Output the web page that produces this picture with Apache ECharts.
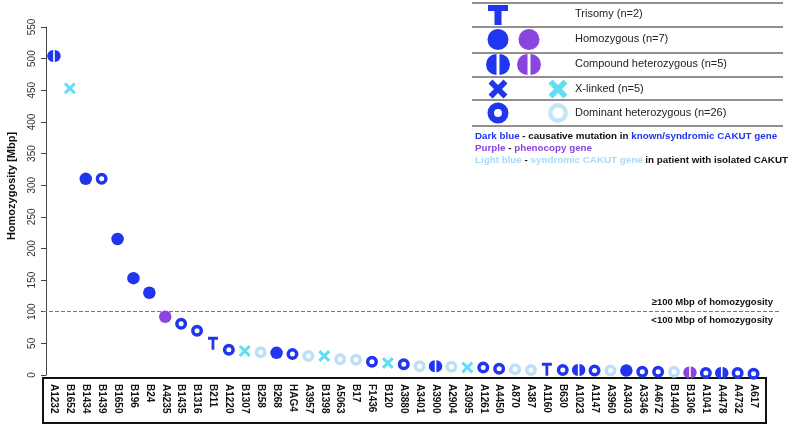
<!DOCTYPE html>
<html>
<head>
<meta charset="utf-8">
<script src="https://cdn.jsdelivr.net/npm/echarts/dist/echarts.min.js"></script>
<style>html,body{margin:0;padding:0;background:#fff;}#c{width:800px;height:425px;}</style>
</head>
<body>
<div id="c"></div>
<script>
// ---- data ----
const categories = ['A1232','B1652','B1434','B1439','B1650','B196','B24','A4235','B1435','B1316','B211','A1220','B1307','B258','B268','HAG4','A3957','B1398','A5063','B17','F1436','B120','A3880','A3401','A3900','A2904','A3095','A1261','A4450','A870','A387','A1160','B630','A1023','A1147','A3960','A3403','A3346','A4672','B1440','B1306','A1041','A4478','A4732','A617'];
const homozygosity = [504,453,310,310,215,153,130,92,81,70,50,40,38,36,35,33,30,30,25,24,21,19,17,14,14,13,12,12,10,9,8,9,8,8,7,7,7,5,5,5,4,3,3,3,2];
const mutationType = ['compound','xlinked','homozygous','dominant','homozygous','homozygous','homozygous','homozygous','dominant','dominant','trisomy','dominant','xlinked','dominant','homozygous','dominant','dominant','xlinked','dominant','dominant','dominant','xlinked','dominant','dominant','compound','dominant','xlinked','dominant','dominant','dominant','dominant','trisomy','dominant','compound','dominant','dominant','homozygous','dominant','dominant','dominant','compound','dominant','compound','dominant','dominant'];
const geneClass = ['dark','light','dark','dark','dark','dark','dark','purple','dark','dark','dark','dark','light','light','dark','dark','light','light','light','light','dark','light','dark','light','dark','light','light','dark','dark','light','light','dark','dark','dark','dark','light','dark','dark','dark','light','purple','dark','dark','dark','dark'];
const yMin = 0, yMax = 550, yStep = 50;
const thresholdValue = 100;
const thresholdLabels = ['\u2265100 Mbp of homozygosity', '<100 Mbp of homozygosity'];
const legendLabels = ['Trisomy (n=2)','Homozygous (n=7)','Compound heterozygous (n=5)','X-linked (n=5)','Dominant heterozygous (n=26)'];

// ---- styles ----
const FONT = '"Liberation Sans", Arial, sans-serif';
const DARK = '#1f35ee', PURPLE = '#8a45de', LIGHTX = '#62def2', LIGHTRING = '#bde0f6';
const PATH_COMPOUND = 'path://M43,0 A50,50 0 0 0 43,100 Z M57,0 A50,50 0 0 1 57,100 Z';
const PATH_X = 'path://M0,18 L18,0 L50,32 L82,0 L100,18 L68,50 L100,82 L82,100 L50,68 L18,100 L0,82 L32,50 Z';
const PATH_T = 'path://M0,0 L100,0 L100,22 L64,22 L64,100 L36,100 L36,22 L0,22 Z';

function colorOf(type, cls) {
  if (cls === 'dark') return DARK;
  if (cls === 'purple') return PURPLE;
  return type === 'xlinked' ? LIGHTX : LIGHTRING;
}
function styleOf(type, cls) {
  const c = colorOf(type, cls);
  switch (type) {
    case 'homozygous': return {symbol:'circle', symbolSize:12.5, itemStyle:{color:c, opacity:1}};
    case 'dominant': return {symbol:'circle', symbolSize:8.5, itemStyle:{color:'#fff', borderColor:c, borderWidth:3.5, opacity:1}};
    case 'compound': return {symbol:PATH_COMPOUND, symbolSize:[13.5,12], itemStyle:{color:c, opacity:1}};
    case 'xlinked': return {symbol:PATH_X, symbolSize:12, itemStyle:{color:c, opacity:1}};
    case 'trisomy': return {symbol:PATH_T, symbolSize:[10,13], itemStyle:{color:c, opacity:1}};
  }
}
const scatterData = categories.map((cat, i) => Object.assign({value:[cat, homozygosity[i]]}, styleOf(mutationType[i], geneClass[i])));

// ---- legend graphics ----
const rowLines = [3,27,53,77,100,126];
const rowY = [14,39,64,89,113];
const g = [];
rowLines.forEach(y => g.push({type:'line', shape:{x1:472,y1:y,x2:783,y2:y}, style:{stroke:'#222', lineWidth:1}}));
function xPoly(cx, cy, s, t) {
  const h = s/2, a = t;
  return [[cx-h,cy-h+a],[cx-h+a,cy-h],[cx,cy-a],[cx+h-a,cy-h],[cx+h,cy-h+a],[cx+a,cy],[cx+h,cy+h-a],[cx+h-a,cy+h],[cx,cy+a],[cx-h+a,cy+h],[cx-h,cy+h-a],[cx-a,cy]];
}
function compound(cx, cy, r, col) {
  return [
    {type:'sector', shape:{cx:cx-1.5, cy:cy, r:r, r0:0, startAngle:Math.PI/2, endAngle:Math.PI*1.5, clockwise:true}, style:{fill:col}},
    {type:'sector', shape:{cx:cx+1.5, cy:cy, r:r, r0:0, startAngle:-Math.PI/2, endAngle:Math.PI/2, clockwise:true}, style:{fill:col}}
  ];
}
// Trisomy
g.push({type:'polygon', shape:{points:[[488,5],[508,5],[508,11],[501.5,11],[501.5,25],[494.5,25],[494.5,11],[488,11]]}, style:{fill:DARK}});
// Homozygous
g.push({type:'circle', shape:{cx:498, cy:39.5, r:10.5}, style:{fill:DARK}});
g.push({type:'circle', shape:{cx:529, cy:39.5, r:10.5}, style:{fill:PURPLE}});
// Compound
compound(498, 64.5, 10.5, DARK).forEach(e => g.push(e));
compound(529, 64.5, 10.5, PURPLE).forEach(e => g.push(e));
// X-linked
g.push({type:'polygon', shape:{points:xPoly(498, 89, 19, 4)}, style:{fill:DARK}});
g.push({type:'polygon', shape:{points:xPoly(558, 89, 19, 4)}, style:{fill:LIGHTX}});
// Dominant
g.push({type:'ring', shape:{cx:498, cy:113, r:10.5, r0:4}, style:{fill:DARK}});
g.push({type:'ring', shape:{cx:558, cy:113, r:10, r0:5.5}, style:{fill:'#c6e4f7'}});
legendLabels.forEach((t, i) => g.push({type:'text', x:575, y:rowY[i], style:{text:t, font:'11px ' + FONT, fill:'#222', verticalAlign:'middle'}}));
const notes = [
  '{db|Dark blue}{k| - causative mutation in }{db|known/syndromic CAKUT gene}',
  '{pp|Purple}{k| - }{pp|phenocopy gene}',
  '{lb|Light blue}{k| - }{lb|syndromic CAKUT gene}{k| in patient with isolated CAKUT}'
];
const bold = 'bold 9.8px ' + FONT;
notes.forEach((t, i) => g.push({type:'text', x:475, y:136 + i*12, style:{text:t, verticalAlign:'middle', font:bold,
  rich:{db:{fill:DARK, font:bold}, pp:{fill:PURPLE, font:bold}, lb:{fill:'#a9daf2', font:bold}, k:{fill:'#111', font:bold}}}}));
// y axis title
g.push({type:'text', x:12, y:186, rotation:Math.PI/2, style:{text:'Homozygosity [Mbp]', font:'bold 11px ' + FONT, fill:'#111', align:'center', verticalAlign:'middle'}});
// category label frame
g.push({type:'rect', shape:{x:43, y:378, width:723, height:45}, style:{fill:'none', stroke:'#111', lineWidth:2}, z:-1});

const chart = echarts.init(document.getElementById('c'), null, {renderer:'canvas'});
chart.setOption({
  animation:false,
  backgroundColor:'#fff',
  textStyle:{fontFamily:FONT},
  grid:[
    {left:46, right:38.5, top:27, bottom:50},
    {left:43, right:20, top:27, bottom:50}
  ],
  xAxis:[
    {type:'category', gridIndex:0, data:categories, boundaryGap:true,
     axisLine:{show:false}, axisTick:{show:false}, splitLine:{show:false},
     axisLabel:{rotate:-90, margin:9, fontSize:10, fontWeight:'bold', color:'#111', interval:0, fontFamily:FONT}},
    {type:'value', gridIndex:1, min:0, max:1, show:false}
  ],
  yAxis:[
    {type:'value', gridIndex:0, min:yMin, max:yMax, interval:yStep,
     axisLine:{show:true, lineStyle:{color:'#444', width:1}},
     axisTick:{show:true, inside:false, length:5, lineStyle:{color:'#444'}},
     splitLine:{show:false},
     axisLabel:{rotate:90, margin:9, fontSize:10, color:'#333', fontFamily:FONT}},
    {type:'value', gridIndex:1, min:yMin, max:yMax, show:false}
  ],
  graphic:g,
  series:[
    {type:'scatter', xAxisIndex:0, yAxisIndex:0, data:scatterData, z:5, itemStyle:{opacity:1}},
    {type:'line', xAxisIndex:1, yAxisIndex:1, data:[], silent:true,
     markLine:{silent:true, symbol:'none', animation:false,
       lineStyle:{type:'dashed', color:'#777', width:1},
       data:[
         {yAxis:thresholdValue, label:{show:true, position:'insideEndTop', formatter:thresholdLabels[0], color:'#111', fontWeight:'bold', fontSize:9.5, fontFamily:FONT, distance:[7,4]}},
         {yAxis:thresholdValue, label:{show:true, position:'insideEndBottom', formatter:thresholdLabels[1], color:'#111', fontWeight:'bold', fontSize:9.5, fontFamily:FONT, distance:[7,4]}}
       ]}}
  ]
});
</script>
</body>
</html>
